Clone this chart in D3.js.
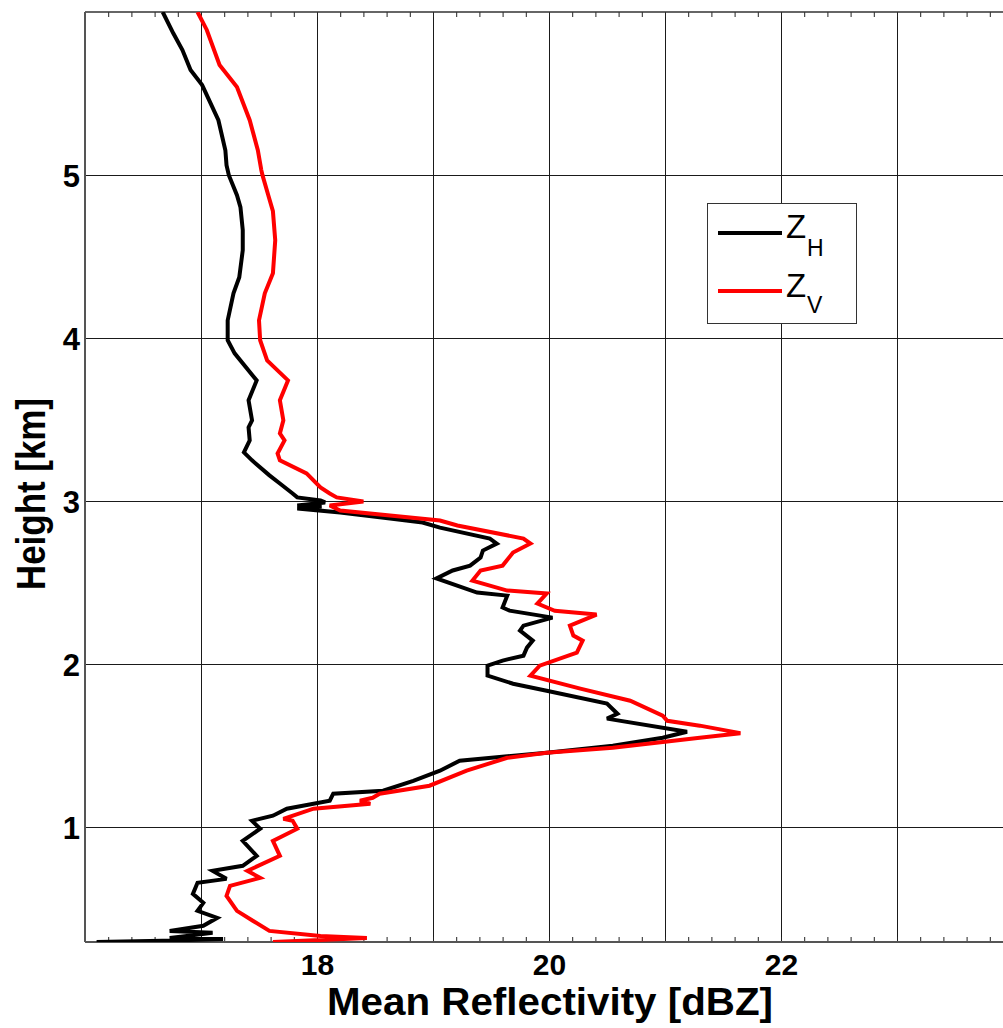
<!DOCTYPE html>
<html>
<head>
<meta charset="utf-8">
<script src="https://cdn.jsdelivr.net/npm/d3@7"></script>
<style>
  html, body { margin: 0; padding: 0; background: #fff; }
  svg { display: block; }
  text { font-family: "Liberation Sans", Arial, sans-serif; }
</style>
</head>
<body>
<svg id="chart" width="1003" height="1028"></svg>
<script>
// ---- data ----
const xTickLabels = [18, 20, 22];
const yTickLabels = [1, 2, 3, 4, 5];
const seriesNames = ["Z_H", "Z_V"];
const seriesColors = ["#000000", "#ff0000"];

const heightH = [6.00,5.871,5.767,5.644,5.552,5.337,5.153,5.061,5.000,4.877,4.804,4.663,4.540,4.374,4.276,4.110,3.988,3.908,3.742,3.620,3.497,3.454,3.374,3.301,3.252,3.160,3.110,3.049,3.025,3.006,2.994,2.975,2.969,2.957,2.933,2.896,2.871,2.840,2.773,2.742,2.699,2.656,2.607,2.577,2.528,2.442,2.423,2.350,2.331,2.288,2.239,2.209,2.147,2.104,2.055,2.025,1.994,1.933,1.883,1.840,1.761,1.699,1.669,1.589,1.552,1.503,1.460,1.411,1.350,1.288,1.227,1.209,1.166,1.117,1.074,1.043,0.994,0.920,0.828,0.767,0.736,0.687,0.663,0.595,0.540,0.491,0.448,0.399,0.368,0.356,0.325,0.319,0.307,0.300];
const zH = [16.67,16.76,16.84,16.91,17.01,17.15,17.21,17.22,17.24,17.31,17.34,17.36,17.36,17.33,17.28,17.23,17.23,17.29,17.48,17.41,17.44,17.41,17.42,17.37,17.44,17.59,17.68,17.79,17.83,18.03,18.07,17.83,18.04,17.83,18.20,18.63,18.91,19.06,19.49,19.55,19.43,19.41,19.32,19.17,19.03,19.38,19.64,19.60,19.66,20.03,19.78,19.75,19.86,19.81,19.78,19.60,19.47,19.47,19.69,19.98,20.50,20.59,20.50,21.19,20.98,20.55,19.98,19.23,19.06,18.83,18.57,18.14,18.11,17.74,17.62,17.44,17.51,17.36,17.48,17.36,17.10,17.22,16.97,16.93,17.02,16.97,17.14,17.02,16.73,17.10,16.73,17.19,16.67,16.10];

const heightV = [6.00,5.890,5.675,5.540,5.337,5.153,5.031,5.000,4.877,4.779,4.601,4.399,4.276,4.110,3.988,3.865,3.742,3.620,3.497,3.417,3.374,3.294,3.252,3.172,3.086,3.049,3.025,3.000,2.975,2.945,2.914,2.883,2.853,2.773,2.742,2.687,2.607,2.577,2.515,2.454,2.436,2.374,2.330,2.307,2.239,2.178,2.147,2.074,1.994,1.933,1.853,1.779,1.687,1.656,1.626,1.580,1.552,1.491,1.460,1.429,1.350,1.258,1.209,1.184,1.166,1.147,1.117,1.055,1.043,0.994,0.920,0.828,0.736,0.693,0.644,0.583,0.491,0.429,0.368,0.337,0.325,0.313,0.300];
const zV = [16.97,17.05,17.16,17.31,17.42,17.49,17.52,17.53,17.58,17.62,17.64,17.62,17.55,17.50,17.51,17.57,17.75,17.68,17.71,17.68,17.72,17.66,17.68,17.91,18.03,18.11,18.17,18.40,18.11,18.20,18.63,19.06,19.21,19.78,19.84,19.69,19.60,19.41,19.34,19.64,19.98,19.90,20.05,20.41,20.18,20.21,20.29,20.24,19.92,19.84,20.27,20.70,20.98,21.02,21.30,21.65,21.30,20.55,19.98,19.64,19.29,18.97,18.54,18.48,18.37,18.46,17.97,17.71,17.79,17.83,17.62,17.68,17.40,17.51,17.25,17.22,17.31,17.45,17.59,18.03,18.43,18.03,17.62];

// ---- layout ----
const svg = d3.select("#chart");
const L = 85, T = 12, R = 1013, B = 942;
const x = d3.scaleLinear().domain([16, 24]).range([L, R]);
const y = d3.scaleLinear().domain([0.3, 6.0]).range([B, T]);

svg.append("defs").append("clipPath").attr("id", "clip")
  .append("rect").attr("x", L).attr("y", T).attr("width", R - L).attr("height", B - T);

// grid
const gridX = d3.range(17, 24, 1);
const gridY = yTickLabels;
svg.append("g").selectAll("line").data(gridX).join("line")
  .attr("x1", d => x(d)).attr("x2", d => x(d)).attr("y1", T).attr("y2", B)
  .attr("stroke", "#1a1a1a").attr("stroke-width", 1).attr("shape-rendering", "crispEdges");
svg.append("g").selectAll("line").data(gridY).join("line")
  .attr("x1", L).attr("x2", R).attr("y1", d => y(d)).attr("y2", d => y(d))
  .attr("stroke", "#1a1a1a").attr("stroke-width", 1).attr("shape-rendering", "crispEdges");

// minor ticks top & bottom (every 0.2)
const minor = d3.range(16.2, 24, 0.2);
const axBot = d3.axisBottom(x).tickValues(minor).tickSize(-5).tickFormat("");
const axTop = d3.axisTop(x).tickValues(minor).tickSize(-5).tickFormat("");
svg.append("g").attr("transform", `translate(0,${B})`).call(axBot)
  .call(g => g.select(".domain").remove())
  .selectAll("line").attr("stroke", "#222");
svg.append("g").attr("transform", `translate(0,${T})`).call(axTop)
  .call(g => g.select(".domain").remove())
  .selectAll("line").attr("stroke", "#222");

// axes frame
svg.append("line").attr("x1", L).attr("x2", R).attr("y1", B).attr("y2", B)
  .attr("stroke", "#555").attr("stroke-width", 2);
svg.append("line").attr("x1", L).attr("x2", R).attr("y1", T).attr("y2", T)
  .attr("stroke", "#333").attr("stroke-width", 1.5);
svg.append("line").attr("x1", L).attr("x2", L).attr("y1", T).attr("y2", B)
  .attr("stroke", "#555").attr("stroke-width", 2);

// tick labels
const xl = d3.axisBottom(x).tickValues(xTickLabels).tickSize(0).tickPadding(0).tickFormat(d3.format("d"));
svg.append("g").attr("transform", `translate(0,${B})`).call(xl)
  .call(g => g.select(".domain").remove())
  .selectAll("text").attr("y", 33).attr("dy", null)
  .attr("font-size", 30).attr("font-weight", "bold").attr("fill", "#000")
  .attr("font-family", "Liberation Sans, Arial, sans-serif");
const yl = d3.axisLeft(y).tickValues(yTickLabels).tickSize(0).tickPadding(0).tickFormat(d3.format("d"));
svg.append("g").attr("transform", `translate(${L},0)`).call(yl)
  .call(g => g.select(".domain").remove())
  .selectAll("text").attr("x", -5).attr("dy", "0.36em")
  .attr("font-size", 31).attr("font-weight", "bold").attr("fill", "#000")
  .attr("font-family", "Liberation Sans, Arial, sans-serif");

// axis titles
svg.append("text").attr("x", 550).attr("y", 1015).attr("text-anchor", "middle")
  .attr("font-size", 38).attr("font-weight", "bold")
  .attr("textLength", 446).attr("lengthAdjust", "spacingAndGlyphs").text("Mean Reflectivity [dBZ]");
svg.append("text").attr("transform", "translate(45,494) rotate(-90)").attr("text-anchor", "middle")
  .attr("font-size", 40).attr("font-weight", "bold")
  .attr("textLength", 192).attr("lengthAdjust", "spacingAndGlyphs").text("Height [km]");

// lines
const series = [
  { h: heightH, z: zH, color: seriesColors[0] },
  { h: heightV, z: zV, color: seriesColors[1] }
];
const line = d3.line().x(d => x(d[1])).y(d => y(d[0]));
const gl = svg.append("g").attr("clip-path", "url(#clip)");
series.forEach(s => {
  gl.append("path").datum(d3.zip(s.h, s.z)).attr("d", line)
    .attr("fill", "none").attr("stroke", s.color).attr("stroke-width", 4)
    .attr("stroke-linejoin", "miter").attr("stroke-miterlimit", 3);
});

// legend
const lg = svg.append("g");
lg.append("rect").attr("x", 707.5).attr("y", 203.5).attr("width", 149).attr("height", 120)
  .attr("fill", "#fff").attr("stroke", "#333").attr("stroke-width", 1);
const rows = [
  { main: "Z", sub: "H", color: seriesColors[0], ly: 233, tb: 238, sb: 256 },
  { main: "Z", sub: "V", color: seriesColors[1], ly: 291, tb: 297, sb: 313 }
];
rows.forEach(r => {
  lg.append("line").attr("x1", 718).attr("x2", 782).attr("y1", r.ly).attr("y2", r.ly)
    .attr("stroke", r.color).attr("stroke-width", 4);
  const t = lg.append("text").attr("x", 786).attr("y", r.tb).attr("font-size", 33).attr("fill", "#000");
  t.append("tspan").text(r.main);
  t.append("tspan").attr("x", 807).attr("y", r.sb).attr("font-size", 23).text(r.sub);
});
</script>
</body>
</html>
